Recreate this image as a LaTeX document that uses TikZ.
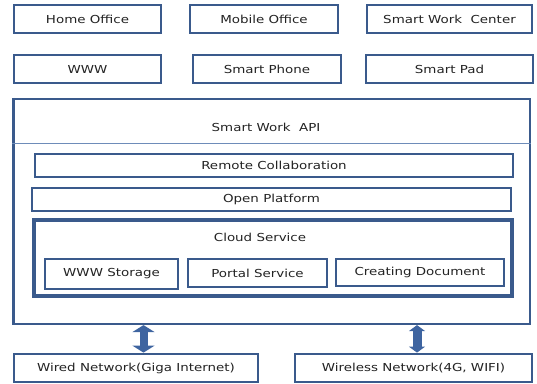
\documentclass[tikz,border=0pt]{standalone}
\usepackage{fontspec}
\setmainfont{DejaVu Sans}[FakeStretch=1.22]
\usetikzlibrary{arrows.meta}
\definecolor{bord}{RGB}{58,90,140}
\definecolor{sepc}{RGB}{110,140,185}
\definecolor{arrc}{RGB}{62,100,160}
\definecolor{txt}{RGB}{35,35,35}
\begin{document}
\begin{tikzpicture}[x=1pt,y=-1pt,
  box/.style={draw=bord, line width=2.8pt, fill=white, inner sep=0pt, font=\fontsize{11}{13}\selectfont, text=txt},
  bigbox/.style={draw=bord, line width=2.2pt, inner sep=0pt},
  cloudbox/.style={draw=bord, line width=3.6pt, inner sep=0pt},
  lbl/.style={font=\fontsize{11}{13}\selectfont, text=txt, inner sep=0pt},
  dblarrow/.style={draw=arrc, line width=#1}]
\useasboundingbox (0,0) rectangle (537,383);
% top rows
\node[box, minimum width=147pt, minimum height=28pt] (home) at (87.5,19) {Home Office};
\node[box, minimum width=148pt, minimum height=28pt] (mobile) at (264,19) {Mobile Office};
\node[box, minimum width=165pt, minimum height=28pt] (swc) at (449.5,19) {Smart Work\ \ Center};
\node[box, minimum width=147pt, minimum height=28pt] (www) at (87.5,69) {WWW};
\node[box, minimum width=148pt, minimum height=28pt] (phone) at (267,69) {Smart Phone};
\node[box, minimum width=167pt, minimum height=28pt] (pad) at (449.5,69) {Smart Pad};
% big box
\node[bigbox, minimum width=517pt, minimum height=225pt] (big) at (271.5,211.5) {};
\draw[bord, line width=2.2pt] ([xshift=1.5pt]big.north west) -- ([xshift=1.5pt]big.south west);
\node[lbl] (api) at (266,127) {Smart Work\ \ API};
\coordinate (sep) at (0,143);
\draw[sepc, line width=1pt] (sep -| big.west) -- (sep -| big.east);
\node[box, line width=2.6pt, minimum width=478pt, minimum height=23pt] (remote) at (274,165.5) {Remote Collaboration};
\node[box, line width=2.6pt, minimum width=479pt, minimum height=23pt] (open) at (271.5,199.5) {Open Platform};
\node[cloudbox, minimum width=478pt, minimum height=76pt] (cloud) at (273,258) {};
\node[lbl] (cloudlbl) at (260,237) {Cloud Service};
\node[box, minimum width=133pt, minimum height=30pt] (storage) at (111.5,274) {WWW Storage};
\node[box, minimum width=139pt, minimum height=28pt] (portal) at (257.5,273) {Portal Service};
\node[box, minimum width=168pt, minimum height=27pt] (creating) at (420,272.5) {Creating Document};
% bottom
\node[box, minimum width=244pt, minimum height=28pt] (wired) at (136,368) {Wired Network(Giga Internet)};
\node[box, minimum width=237pt, minimum height=28pt] (wireless) at (413.5,368) {Wireless Network(4G, WIFI)};
% arrows
\coordinate (a1) at (143.5,0);
\coordinate (a2) at (417,0);
\draw[dblarrow=8pt, {Triangle[width=22pt,length=7pt]}-{Triangle[width=22pt,length=7pt]}]
  (a1 |- big.south) -- (a1 |- wired.north);
\draw[dblarrow=9pt, {Triangle[width=16pt,length=6pt]}-{Triangle[width=16pt,length=6pt]}]
  (a2 |- big.south) -- (a2 |- wireless.north);
\end{tikzpicture}
\end{document}
